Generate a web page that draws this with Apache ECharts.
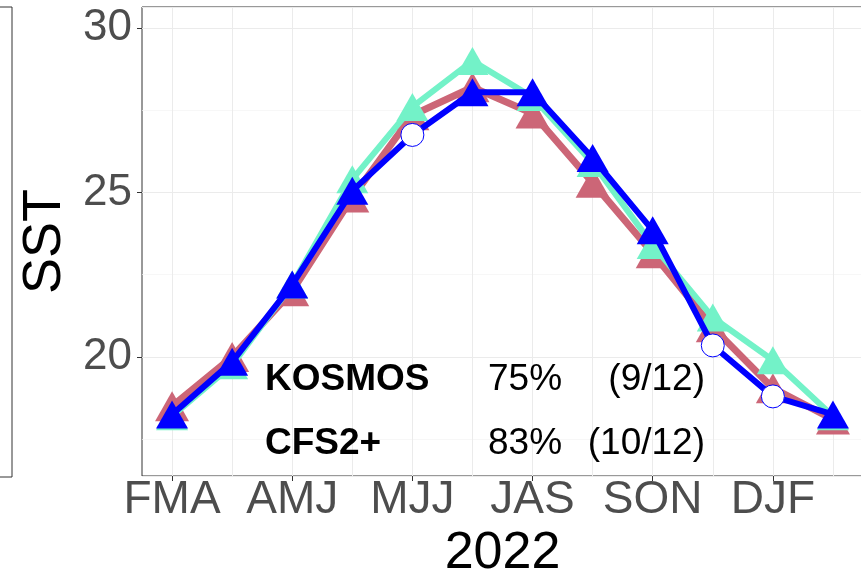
<!DOCTYPE html>
<html>
<head>
<meta charset="utf-8">
<script src="https://cdn.jsdelivr.net/npm/echarts@6/dist/echarts.min.js"></script>
<style>
  html, body { margin: 0; padding: 0; background: #ffffff; }
  #chart { width: 861px; height: 578px; }
</style>
</head>
<body>
<div id="chart"></div>
<script>
// 12 rolling seasons of 2022 (positions on the x axis)
var categories = ['FMA', 'MAM', 'AMJ', 'MJJ', 'JJA', 'JAS', 'ASO', 'SON', 'OND', 'NDJ', 'DJF', 'JFM'];
// tick labels shown at every other position, as in the reference
var xTickLabels = ['FMA', 'AMJ', 'MJJ', 'JAS', 'SON', 'DJF'];

// KOSMOS forecast (mauve)
var kosmos = [18.5, 20.0, 22.0, 24.85, 27.35, 28.2, 27.4, 25.3, 23.15, 20.9, 19.05, 18.1];
// CFS2+ forecast (aquamarine)
var cfs2 = [18.2, 19.75, 22.2, 25.4, 27.6, 29.0, 27.9, 25.9, 23.4, 21.2, 19.9, 18.2];
// Observation (blue)
var observed = [18.25, 19.85, 22.2, 25.05, 26.75, 28.05, 28.05, 26.05, 23.85, 20.35, 18.8, 18.25];
// seasons where the observation is drawn as an open circle
var missIndex = [4, 9, 10];

var yTickValues = [20, 25, 30];

var annotRows = [
  { name: 'KOSMOS', pct: '75%', frac: '(9/12)' },
  { name: 'CFS2+', pct: '83%', frac: '(10/12)' }
];

var FONT = '"Liberation Sans", Arial, Helvetica, sans-serif';
var chart = echarts.init(document.getElementById('chart'), null, { renderer: 'canvas' });

var triSize = [32, 28];
function triSeries(name, values, color, width, size, z) {
  return {
    name: name,
    type: 'line',
    data: values,
    symbol: 'triangle',
    symbolSize: size,
    showSymbol: true,
    z: z,
    lineStyle: { color: color, width: width },
    itemStyle: { color: color, borderWidth: 0 },
    emphasis: { disabled: true },
    animation: false
  };
}

var obsData = observed.map(function (v, i) {
  if (missIndex.indexOf(i) >= 0) {
    return {
      value: v,
      symbol: 'circle',
      symbolSize: 23,
      itemStyle: { color: '#ffffff', borderColor: '#0000ff', borderWidth: 1 }
    };
  }
  return v;
});

var graphics = [
  {
    type: 'polyline',
    shape: { points: [[0, 7], [12, 7], [12, 477], [0, 477]] },
    style: { stroke: '#333333', lineWidth: 1, fill: null },
    z: 10
  }
];
annotRows.forEach(function (r, k) {
  var y = 381 + k * 64;
  graphics.push({ type: 'text', left: 265, top: y - 20, z: 20,
    style: { text: r.name, font: 'bold 37px ' + FONT, fill: '#000000' } });
  graphics.push({ type: 'text', left: 488, top: y - 20, z: 20,
    style: { text: r.pct, font: '37px ' + FONT, fill: '#000000' } });
  graphics.push({ type: 'text', right: 861 - 705, top: y - 20, z: 20,
    style: { text: r.frac, font: '37px ' + FONT, fill: '#000000', textAlign: 'right' } });
});

var option = {
  backgroundColor: '#ffffff',
  animation: false,
  grid: {
    left: 142, top: 7, width: 721, height: 469,
    show: true, borderColor: '#333333', borderWidth: 1, backgroundColor: 'transparent',
    containLabel: false,
    outerBoundsMode: 'none'
  },
  xAxis: {
    type: 'category',
    data: categories,
    boundaryGap: true,
    name: '2022',
    nameLocation: 'middle',
    nameGap: 44,
    nameTextStyle: { fontFamily: FONT, fontSize: 52, color: '#000000' },
    axisLine: { show: false },
    axisTick: { show: true, interval: 1, alignWithLabel: true, length: 5, lineStyle: { color: '#333333', width: 1 } },
    axisLabel: {
      interval: 1, margin: 1, fontFamily: FONT, fontSize: 46, color: '#4d4d4d',
      formatter: function (v, i) { return xTickLabels[i / 2] || ''; }
    },
    splitLine: { show: true, interval: 0, alignWithLabel: true, lineStyle: { color: '#ebebeb', width: 1 } }
  },
  yAxis: {
    type: 'value',
    min: 16.38, max: 30.64,
    minInterval: 5, maxInterval: 5,
    name: 'SST',
    nameLocation: 'middle',
    nameGap: 60,
    nameRotate: 90,
    nameTextStyle: { fontFamily: FONT, fontSize: 54, color: '#000000' },
    axisLine: { show: false },
    axisTick: { show: true, length: 5, lineStyle: { color: '#333333', width: 1 } },
    axisLabel: {
      margin: 10, fontFamily: FONT, fontSize: 44, color: '#4d4d4d',
      showMinLabel: false, showMaxLabel: false,
      formatter: function (v) { return yTickValues.indexOf(Math.round(v * 100) / 100) >= 0 ? String(Math.round(v)) : ''; }
    },
    splitLine: { show: true, lineStyle: { color: '#ebebeb', width: 1.2 } },
    minorTick: { show: false, splitNumber: 2 },
    minorSplitLine: { show: true, lineStyle: { color: '#f3f3f3', width: 0.7 } }
  },
  series: [
    triSeries('KOSMOS', kosmos, '#cc6677', 7, [34, 30], 2),
    triSeries('CFS2+', cfs2, '#73f2c8', 6, triSize, 3),
    {
      name: 'OBS',
      type: 'line',
      data: obsData,
      symbol: 'triangle',
      symbolSize: triSize,
      z: 4,
      lineStyle: { color: '#0000ff', width: 6 },
      itemStyle: { color: '#0000ff', borderWidth: 0 },
      emphasis: { disabled: true },
      animation: false
    }
  ],
  graphic: graphics
};
chart.setOption(option);
</script>
</body>
</html>
